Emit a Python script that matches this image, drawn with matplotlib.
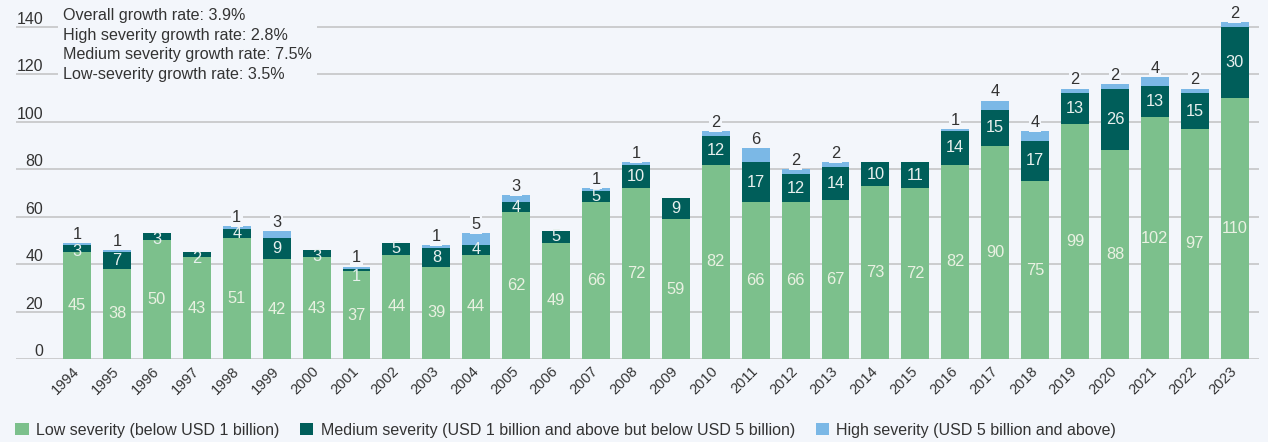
import matplotlib
matplotlib.use("Agg")
import matplotlib.pyplot as plt
import numpy as np
from matplotlib.patches import Patch

years = ["1994", "1995", "1996", "1997", "1998", "1999", "2000", "2001", "2002", "2003",
         "2004", "2005", "2006", "2007", "2008", "2009", "2010", "2011", "2012", "2013",
         "2014", "2015", "2016", "2017", "2018", "2019", "2020", "2021", "2022", "2023"]
low = [45, 38, 50, 43, 51, 42, 43, 37, 44, 39, 44, 62, 49, 66, 72, 59, 82, 66, 66, 67,
       73, 72, 82, 90, 75, 99, 88, 102, 97, 110]
medium = [3, 7, 3, 2, 4, 9, 3, 1, 5, 8, 4, 4, 5, 5, 10, 9, 12, 17, 12, 14,
          10, 11, 14, 15, 17, 13, 26, 13, 15, 30]
high = [1, 1, 0, 0, 1, 3, 0, 1, 0, 1, 5, 3, 0, 1, 1, 0, 2, 6, 2, 2,
        0, 0, 1, 4, 4, 2, 2, 4, 2, 2]
yticks = [0, 20, 40, 60, 80, 100, 120, 140]
notes = ["Overall growth rate: 3.9%",
         "High severity growth rate: 2.8%",
         "Medium severity growth rate: 7.5%",
         "Low-severity growth rate: 3.5%"]
legend_labels = ["Low severity (below USD 1 billion)",
                 "Medium severity (USD 1 billion and above but below USD 5 billion)",
                 "High severity (USD 5 billion and above)"]

BG = "#f3f6fb"
C_LOW = "#7cc08c"
C_MED = "#005e5a"
C_HIGH = "#7bb8e6"
GRID = "#c8c9cb"
TXT = "#333333"

plt.rcParams['font.family'] = ['Liberation Sans', 'DejaVu Sans']

W, H = 1268, 442
fig = plt.figure(figsize=(W / 100, H / 100), dpi=100, facecolor=BG)
ax_left, ax_right, ax_bottom, ax_top = 16, 1259, 359, 5
ax = fig.add_axes([ax_left / W, (H - ax_bottom) / H, (ax_right - ax_left) / W, (ax_bottom - ax_top) / H])
ax.set_facecolor(BG)

x = np.arange(len(years))
low_a = np.array(low)
med_a = np.array(medium)
high_a = np.array(high)
bw = 0.7
ax.bar(x, low_a, bw, color=C_LOW, zorder=3)
ax.bar(x, med_a, bw, bottom=low_a, color=C_MED, zorder=3)
ax.bar(x, high_a, bw, bottom=low_a + med_a, color=C_HIGH, zorder=3)

px_per_unit = (359 - 27) / 140.0
ax.set_ylim(0, (ax_bottom - ax_top) / px_per_unit)
ax.set_xlim(-1.53, len(years) - 1 + 0.61)

for s in ax.spines.values():
    s.set_visible(False)
ax.set_yticks(yticks)
ax.yaxis.grid(True, color=GRID, lw=1.3, zorder=0)
ax.set_axisbelow(True)
ax.tick_params(axis='y', length=0, pad=-19.5, labelsize=11.5, labelcolor=TXT)
for t in ax.get_yticklabels():
    t.set_verticalalignment('bottom')
    t.set_horizontalalignment('right')

ax.set_xticks(x)
ax.set_xticklabels(years, rotation=45, ha='right', va='center', rotation_mode='anchor',
                   fontsize=10.5, color=TXT)
ax.tick_params(axis='x', length=0, pad=7)

# value labels
small_shift = {1: -4.5, 2: -3.0, 3: -2.0}
for i in range(len(years)):
    ax.text(x[i], low_a[i] / 2, str(low_a[i]), ha='center', va='center',
            fontsize=11.8, color="#e9f1e2", zorder=5)
    if med_a[i] > 0:
        dy = small_shift.get(int(med_a[i]), 0.0)
        ax.annotate(str(med_a[i]), xy=(x[i], low_a[i] + med_a[i] / 2),
                    xytext=(0, dy), textcoords='offset points', ha='center', va='center',
                    fontsize=11.8, color="#e8f0ee", zorder=5)
    if high_a[i] > 0:
        ax.annotate(str(high_a[i]), xy=(x[i], low_a[i] + med_a[i] + high_a[i]),
                    xytext=(0, 3), textcoords='offset points', ha='center', va='baseline',
                    fontsize=11.8, color=TXT, zorder=5,
                    bbox=dict(facecolor=BG, edgecolor='none', pad=1.2))

ax.text((63 - ax_left) / (ax_right - ax_left), 1 - (8 - ax_top) / (ax_bottom - ax_top),
        "\n".join(notes), transform=ax.transAxes, ha='left', va='top',
        fontsize=11.6, color=TXT, linespacing=1.38, zorder=6,
        bbox=dict(facecolor=BG, edgecolor='none', pad=4))

handles = [Patch(facecolor=C_LOW), Patch(facecolor=C_MED), Patch(facecolor=C_HIGH)]
leg = fig.legend(handles, legend_labels, loc='center left', bbox_to_anchor=(15 / W, 1 - 430 / H),
                 ncol=3, frameon=False, fontsize=11.5, handlelength=0.85, handleheight=0.85,
                 handletextpad=0.45, columnspacing=1.3, borderpad=0, borderaxespad=0,
                 labelcolor=TXT)

fig.savefig("out.png", dpi=100, facecolor=BG)
